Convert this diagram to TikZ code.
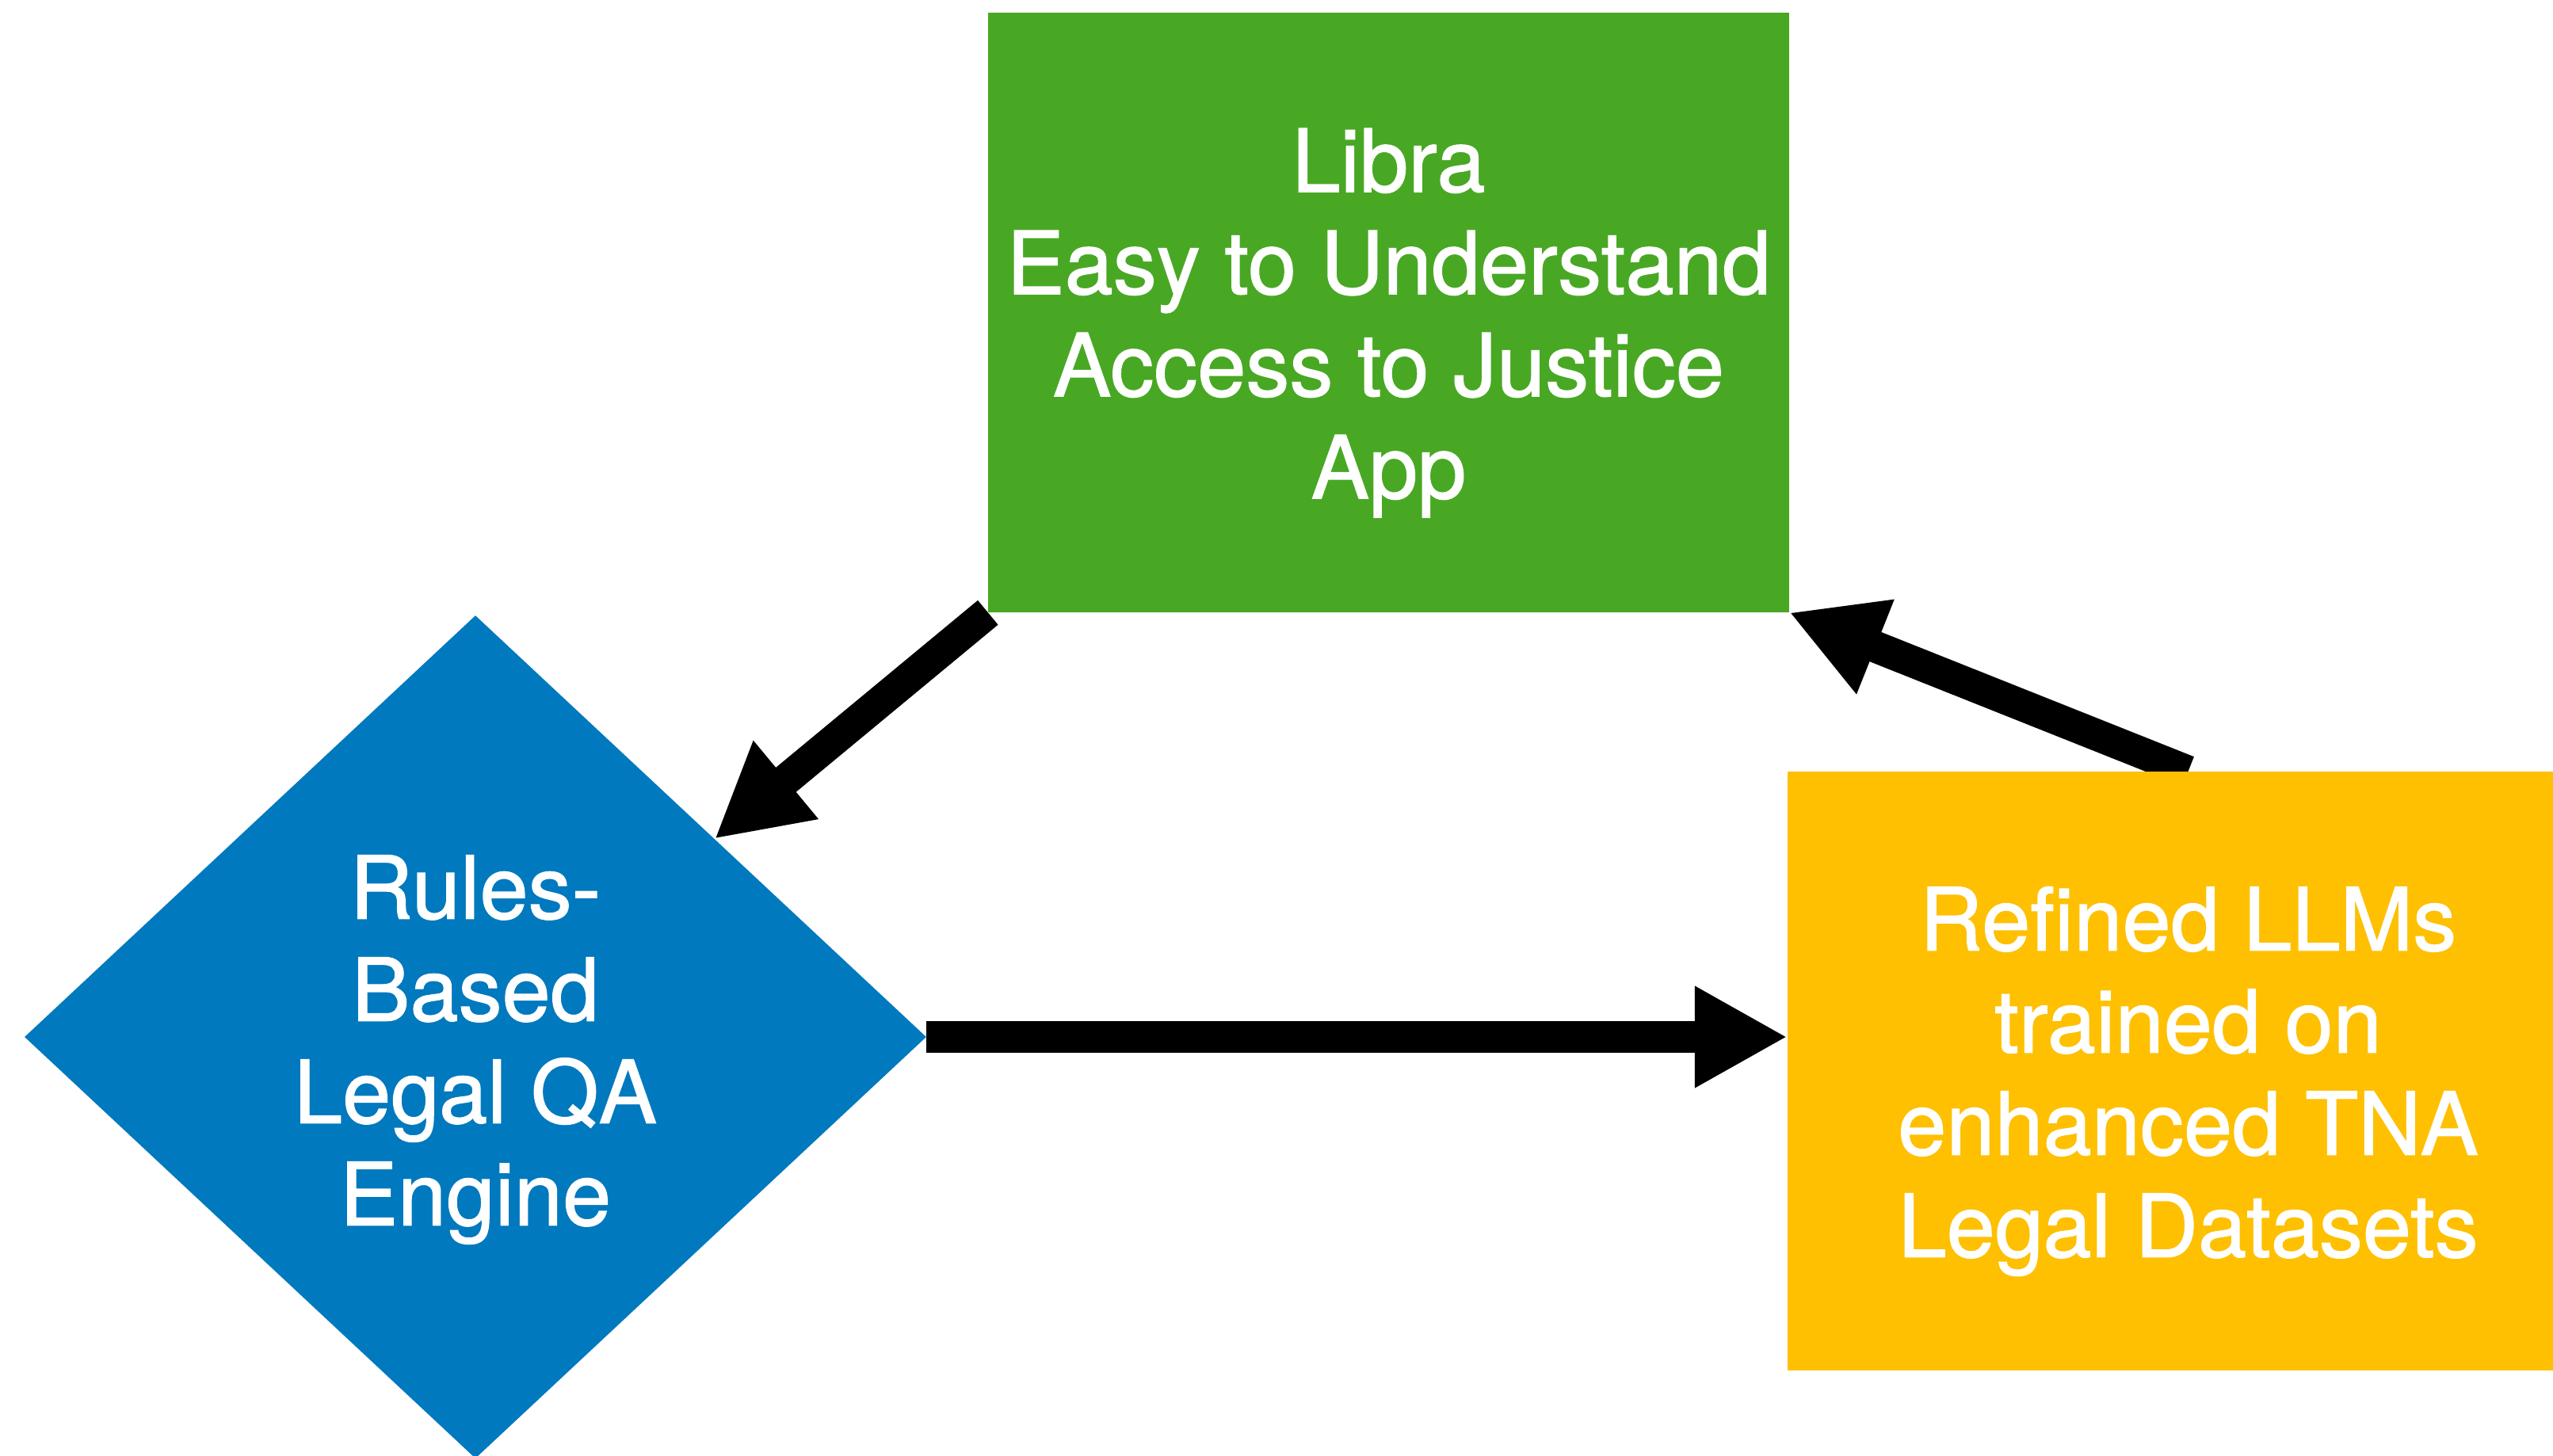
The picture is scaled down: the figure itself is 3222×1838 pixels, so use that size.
\documentclass[tikz,border=0pt]{standalone}
\usepackage{fontspec}
\setmainfont{TeX Gyre Heros}[FakeBold=1.2]
\usetikzlibrary{shapes.geometric,arrows.meta,backgrounds}
\definecolor{libgreen}{RGB}{72,168,36}
\definecolor{engblue}{RGB}{0,121,190}
\definecolor{llmyellow}{RGB}{254,192,0}
\tikzset{
  boxtext/.style={text=white,font=\fontsize{110}{129}\selectfont,align=center,inner sep=0pt},
  fatarrow/.style={line width=40pt,-{Triangle[length=117pt,width=120pt]}}
}
\begin{document}
\begin{tikzpicture}[x=1pt,y=-1pt]
\useasboundingbox (0,0) rectangle (3222,1838);
\clip (0,0) rectangle (3222,1838);
\node[fill=libgreen,minimum width=1011pt,minimum height=757pt,inner sep=0pt] (libra) at (1752.5,394.5) {};
\node[boxtext] (libratxt) at ([yshift=-13pt]libra.center)
  {Libra\\Easy to Understand\\Access to Justice\\App};
\node[diamond,fill=engblue,minimum width=1138pt,minimum height=1064pt,inner sep=0pt] (engine) at (600,1309) {};
\node[boxtext] (enginetxt) at ([yshift=-16pt]engine.center)
  {Rules-\\Based\\Legal QA\\Engine};
\node[fill=llmyellow,minimum width=1011pt,minimum height=756pt,inner sep=0pt] (llm) at (2761.5,1352) {};
\node[boxtext] (llmtxt) at ([yshift=-13pt]llm.center)
  {Refined LLMs\\trained on\\enhanced TNA\\Legal Datasets};
\begin{scope}[on background layer]
\fill[white] (0,0) rectangle (3222,1838);
\draw[fatarrow] (libra.south west) -- (engine);
\draw[fatarrow] (engine.east) -- (llm.west |- engine.east);
\draw[fatarrow] (llm.north) -- (libra.south east);
\end{scope}
\end{tikzpicture}
\end{document}
